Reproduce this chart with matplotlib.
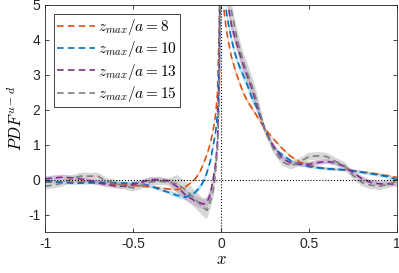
import matplotlib
matplotlib.use("Agg")
import matplotlib.pyplot as plt
import numpy as np

plt.rcParams['mathtext.fontset'] = 'cm'
plt.rcParams['axes.unicode_minus'] = False
plt.rcParams['font.family'] = ['Liberation Sans', 'DejaVu Sans']

# common x grid (the curves blow up at x = 0, off the top of the axes)
x = [-1.0, -0.95, -0.9, -0.85, -0.8, -0.75, -0.7, -0.65, -0.6, -0.55, -0.5,
     -0.45, -0.4, -0.35, -0.3, -0.25, -0.2, -0.15, -0.12, -0.1, -0.08, -0.06,
     -0.04, -0.03, -0.02, -0.01, 0.0, 0.01, 0.02, 0.03, 0.04, 0.06, 0.08, 0.1,
     0.125, 0.15, 0.175, 0.2, 0.25, 0.3, 0.35, 0.4, 0.45, 0.5, 0.55, 0.6,
     0.65, 0.7, 0.75, 0.8, 0.85, 0.9, 0.95, 1.0]

pdf_z8 = [-0.07, -0.07, -0.07, -0.07, -0.07, -0.08, -0.1, -0.11, -0.13, -0.15, -0.17,
          -0.19, -0.21, -0.24, -0.27, -0.29, -0.2, 0.0, 0.22, 0.45, 0.72, 1.05,
          1.55, 1.9, 2.5, 4.5, 10.0, 5.2, 4.7, 4.3, 4.0, 3.5, 3.15, 2.85,
          2.5, 2.25, 2.05, 1.85, 1.45, 1.15, 0.88, 0.65, 0.5, 0.4, 0.35, 0.31,
          0.29, 0.28, 0.26, 0.22, 0.19, 0.15, 0.11, 0.06]
pdf_z10 = [-0.04, -0.06, -0.08, -0.1, -0.1, -0.09, -0.08, -0.08, -0.09, -0.1, -0.1,
           -0.12, -0.18, -0.28, -0.36, -0.45, -0.5, -0.38, -0.22, -0.05, 0.2, 0.55,
           1.1, 1.4, 1.9, 3.2, 10.0, 6.0, 5.3, 4.8, 4.5, 4.0, 3.6, 3.3,
           3.0, 2.7, 2.35, 2.1, 1.45, 0.9, 0.7, 0.53, 0.44, 0.37, 0.34, 0.31,
           0.3, 0.28, 0.25, 0.21, 0.17, 0.13, 0.08, 0.0]
pdf_z13 = [0.02, 0.05, 0.07, 0.05, 0.02, -0.03, -0.09, -0.14, -0.18, -0.19, -0.14,
           -0.07, 0.0, 0.0, -0.04, -0.2, -0.45, -0.6, -0.66, -0.7, -0.66, -0.4,
           0.15, 0.5, 1.1, 2.8, 10.0, 8.0, 6.5, 5.6, 5.0, 4.4, 4.05, 3.7,
           3.3, 2.95, 2.6, 2.2, 1.4, 0.95, 0.6, 0.47, 0.44, 0.44, 0.49, 0.52,
           0.48, 0.38, 0.2, 0.03, -0.08, -0.12, -0.12, -0.13]
pdf_z15 = [-0.19, -0.15, -0.1, 0.02, 0.1, 0.1, 0.1, -0.05, -0.1, -0.18, -0.24,
           -0.16, -0.07, -0.05, -0.07, -0.12, -0.3, -0.55, -0.7, -0.8, -0.88, -0.6,
           -0.2, 0.3, 0.9, 2.5, 10.0, 9.0, 7.0, 6.0, 5.4, 4.8, 4.3, 3.85,
           3.4, 3.05, 2.7, 2.3, 1.4, 0.85, 0.5, 0.4, 0.52, 0.66, 0.68, 0.66,
           0.52, 0.4, 0.12, -0.08, -0.16, -0.19, -0.13, -0.04]

# half-widths of the uncertainty bands
err_z8 = [0.03] * 18 + [0.04] * 8 + [0.1] + [0.06] * 11 + [0.03] * 16
err_z10 = [0.05] * 15 + [0.08] * 11 + [0.2] + [0.12] * 11 + [0.05] * 16
err_z13 = [0.07] * 15 + [0.15] * 11 + [0.3] + [0.18] * 11 + [0.07] * 16
err_z15 = [0.1] * 15 + [0.25] * 11 + [0.4] + [0.28] * 11 + [0.11] * 16

labels = ['$z_{max}/a = 8$', '$z_{max}/a = 10$', '$z_{max}/a = 13$', '$z_{max}/a = 15$']
line_colors = ['#D95319', '#0072BD', '#7E2F8E', '#7F7F7F']
band_colors = ['#F4B183', '#8FD3F4', '#B48AC0', '#BFBFBF']

series = [pdf_z8, pdf_z10, pdf_z13, pdf_z15]
errors = [err_z8, err_z10, err_z13, err_z15]

fig = plt.figure(figsize=(3.99, 2.73), dpi=100)
ax = fig.add_axes([0.113, 0.150, 0.882, 0.832])

xa = np.array(x)
for y, e, lab, lc, bc in zip(series, errors, labels, line_colors, band_colors):
    y = np.array(y)
    e = np.array(e)
    ax.fill_between(xa, y - e, y + e, color=bc, alpha=0.6, lw=0)
    ax.plot(xa, y, color=lc, lw=1.2, dashes=(4, 2.5), label=lab)

ax.axhline(0, color='k', lw=0.8, ls=':')
ax.axvline(0, color='k', lw=0.8, ls=':')

ax.set_xlim(-1, 1)
ax.set_ylim(-1.5, 5)
ax.set_xticks([-1, -0.5, 0, 0.5, 1])
ax.set_xticklabels(['-1', '-0.5', '0', '0.5', '1'])
ax.set_yticks([-1, 0, 1, 2, 3, 4, 5])
ax.tick_params(direction='in', top=True, right=True, length=3, width=0.6,
               labelsize=10, colors='#262626')
for s in ax.spines.values():
    s.set_color('#262626')
    s.set_linewidth(0.6)

ax.set_xlabel('$x$', fontsize=12, labelpad=1)
ax.set_ylabel('$PDF^{u-d}$', fontsize=12, labelpad=2)

leg = ax.legend(loc='upper left', fontsize=11, handlelength=2.5, handletextpad=0.15,
                labelspacing=0.15, borderpad=0.2, borderaxespad=0, fancybox=False,
                framealpha=1, edgecolor='#262626', bbox_to_anchor=(0.026, 0.96))
leg.get_frame().set_linewidth(0.6)

fig.savefig('out.png', dpi=100)
